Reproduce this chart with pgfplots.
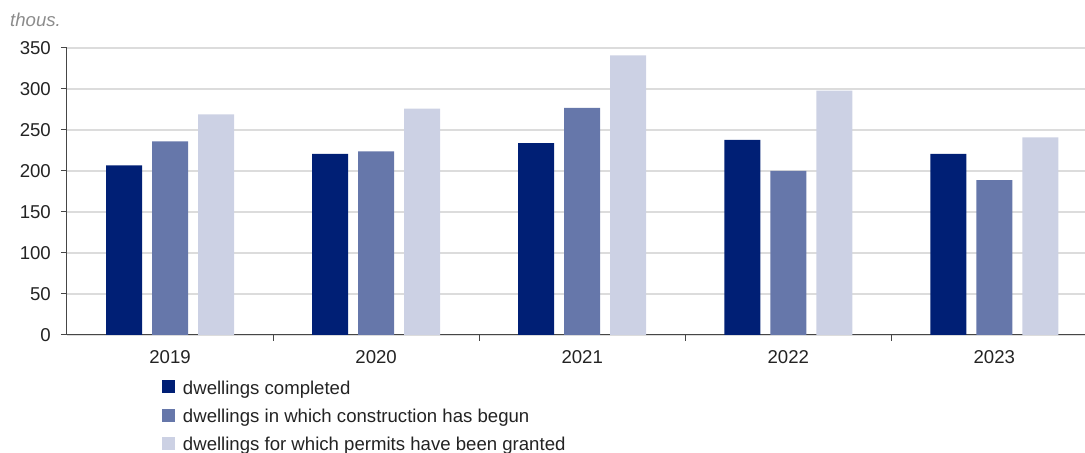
\documentclass[border=0pt]{standalone}
\usepackage{fontspec}
\setmainfont{Liberation Sans}
\usepackage{pgfplots}
\pgfplotsset{compat=1.18}
\definecolor{cA}{RGB}{0,31,117}
\definecolor{cB}{RGB}{102,119,170}
\definecolor{cC}{RGB}{204,209,228}
\definecolor{gridc}{RGB}{220,220,220}
\definecolor{axc}{RGB}{70,70,70}
\definecolor{txt}{RGB}{35,35,35}
\begin{document}
\begin{tikzpicture}
\begin{axis}[
  name=ax,
  width=1018bp, height=287bp, scale only axis,
  xmin=-0.5, xmax=4.44, ymin=0, ymax=350,
  axis lines*=left,
  axis line style={color=axc, line width=1bp},
  clip=false,
  font=\fontsize{18.6bp}{22bp}\selectfont,
  /pgf/number format/assume math mode=true,
  ytick={0,50,...,350},
  ymajorgrids,
  grid style={color=gridc, line width=1.3bp},
  tick align=outside,
  major tick length=6bp,
  tick style={color=axc, line width=1bp},
  xtick={0.5,1.5,2.5,3.5},
  xticklabels={},
  extra x ticks={0,1,2,3,4},
  extra x tick labels={2019,2020,2021,2022,2023},
  extra x tick style={major tick length=0pt,
    xticklabel style={anchor=north, inner sep=0pt, yshift=-15bp, text=txt}},
  yticklabel style={anchor=east, inner sep=0pt, xshift=-10bp, text=txt},
  ybar=10bp, bar width=36bp,
  legend cell align=left,
  legend style={at={(0.0933,-0.1568)}, anchor=north west, draw=none,
    inner sep=0pt, outer sep=0pt, column sep=8bp, row sep=10.5bp,
    cells={anchor=base west},
    nodes={inner sep=0pt, text height=14bp, text depth=4bp, text=txt},
    font=\fontsize{18.6bp}{22bp}\selectfont},
  legend image code/.code={\fill[#1] (0bp,1bp) rectangle (13bp,14bp);},
]
\addplot[fill=cA, draw=none] coordinates {(0,207) (1,221) (2,234) (3,238) (4,221)};
\addplot[fill=cB, draw=none] coordinates {(0,236) (1,224) (2,277) (3,200) (4,189)};
\addplot[fill=cC, draw=none] coordinates {(0,269) (1,276) (2,341) (3,298) (4,241)};
\legend{dwellings completed, dwellings in which construction has begun, dwellings for which permits have been granted}
\node[anchor=base west, inner sep=0pt, text={rgb,255:red,140;green,140;blue,140}, font=\fontsize{18.6bp}{22bp}\selectfont\itshape] at (rel axis cs:0,1) [xshift=-57bp, yshift=21bp] {thous.};
\end{axis}
\pgfresetboundingbox
\path[use as bounding box] ([xshift=-67bp,yshift=-118bp]ax.south west) rectangle ([yshift=48bp]ax.north east);
\end{tikzpicture}
\end{document}
